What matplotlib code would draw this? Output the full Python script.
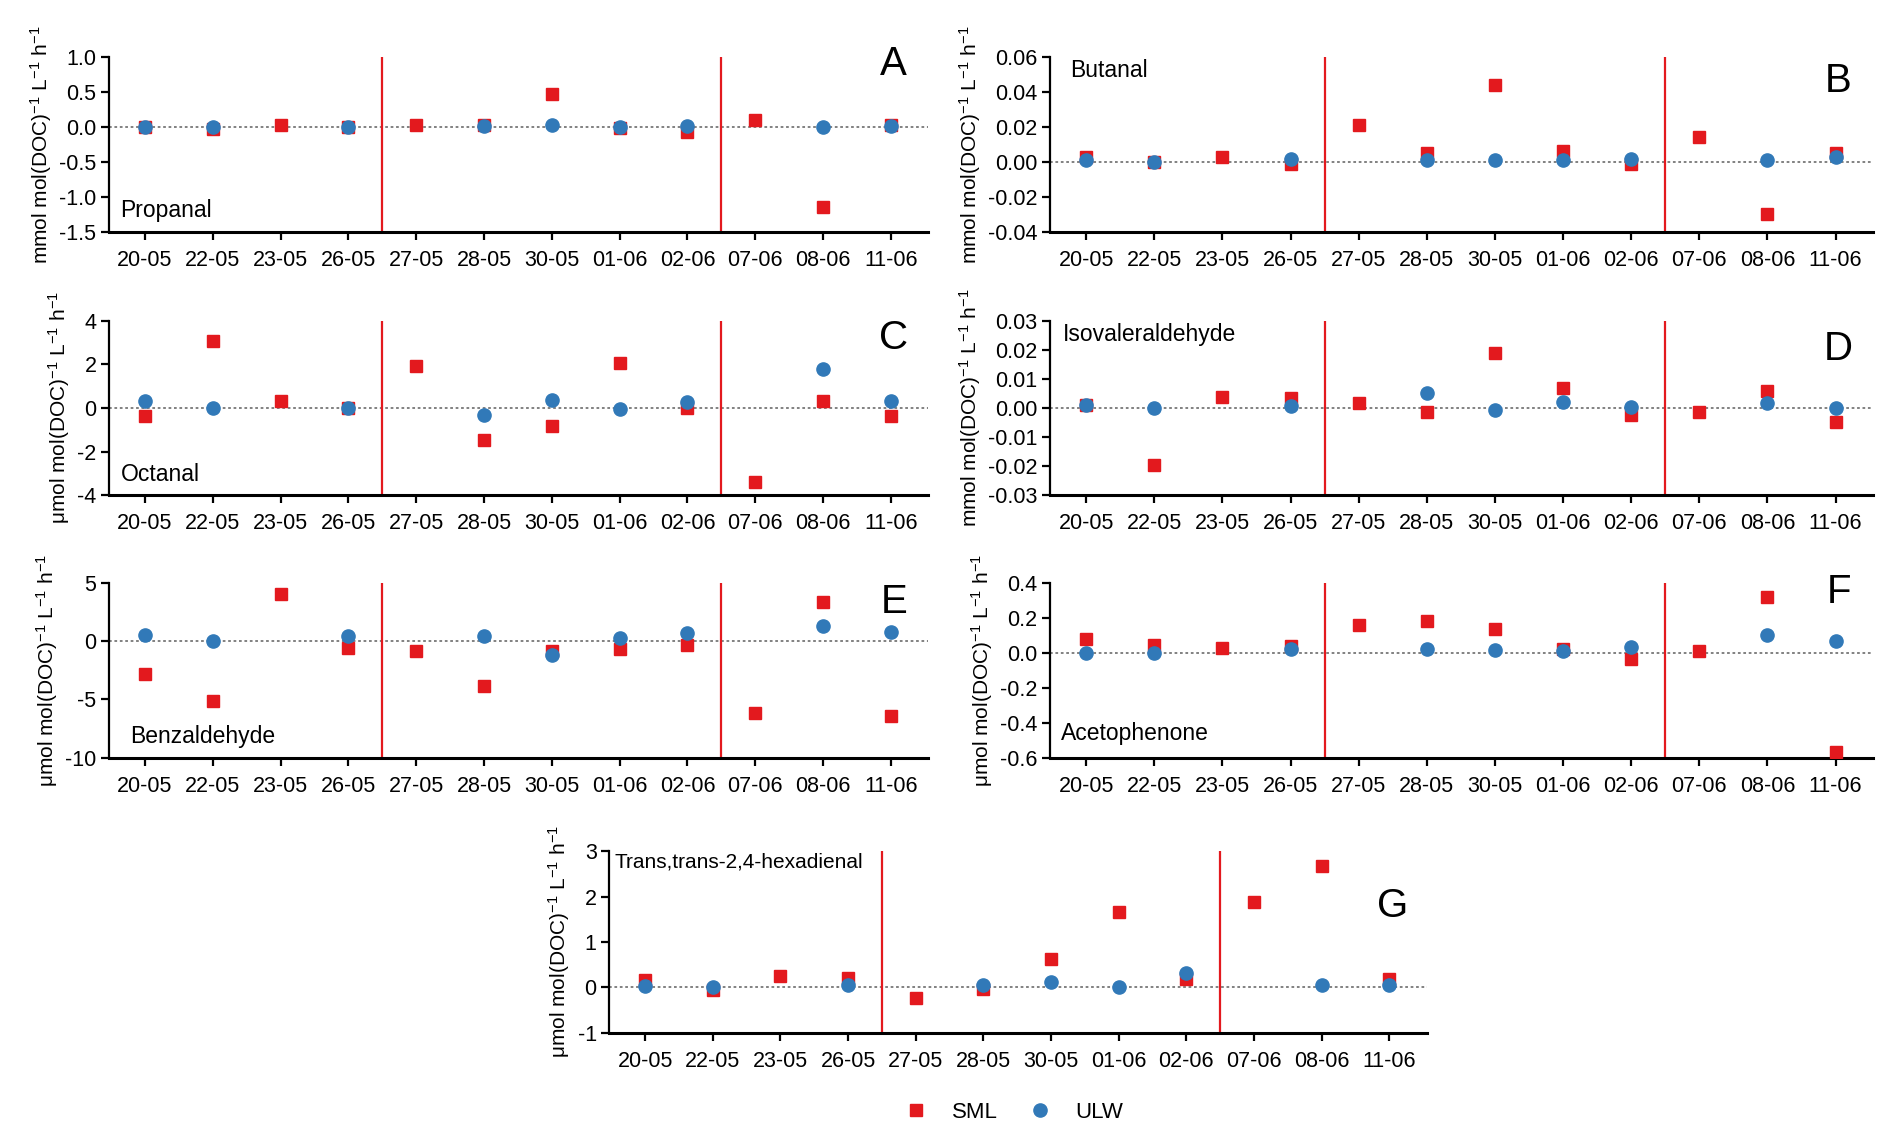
import numpy as np
import matplotlib
matplotlib.use("Agg")
from matplotlib import pyplot as plt
from matplotlib.lines import Line2D

plt.rcParams['font.family'] = ['Liberation Sans', 'DejaVu Sans']
plt.rcParams['mathtext.fontset'] = 'custom'
plt.rcParams['mathtext.rm'] = 'Liberation Sans'
plt.rcParams['mathtext.it'] = 'Liberation Sans:italic'
plt.rcParams['mathtext.bf'] = 'Liberation Sans:bold'

dates = ["20-05", "22-05", "23-05", "26-05", "27-05", "28-05",
         "30-05", "01-06", "02-06", "07-06", "08-06", "11-06"]
nan = np.nan

# SML / ULW values per compound
propanal_sml = [0.0, -0.03, 0.03, 0.0, 0.02, 0.02, 0.47, -0.02, -0.08, 0.10, -1.15, 0.02]
propanal_ulw = [0.0, 0.0, nan, 0.0, nan, 0.01, 0.03, 0.0, 0.01, nan, 0.0, 0.01]

butanal_sml = [0.003, 0.0, 0.003, -0.001, 0.021, 0.005, 0.044, 0.006, -0.001, 0.014, -0.030, 0.005]
butanal_ulw = [0.001, 0.0, nan, 0.0015, nan, 0.001, 0.001, 0.001, 0.0015, nan, 0.001, 0.003]

octanal_sml = [-0.35, 3.05, 0.3, 0.0, 1.92, -1.47, -0.82, 2.07, 0.0, -3.4, 0.3, -0.35]
octanal_ulw = [0.33, 0.0, nan, 0.0, nan, -0.32, 0.37, -0.05, 0.28, nan, 1.78, 0.33]

isoval_sml = [0.001, -0.0195, 0.0037, 0.0035, 0.0017, -0.0015, 0.019, 0.0068, -0.0025, -0.0015, 0.0057, -0.0048]
isoval_ulw = [0.001, 0.0, nan, 0.0005, nan, 0.0052, -0.0007, 0.002, 0.0002, nan, 0.0017, 0.0]

benz_sml = [-2.85, -5.1, 4.1, -0.55, -0.8, -3.85, -0.8, -0.7, -0.3, -6.15, 3.4, -6.45]
benz_ulw = [0.5, 0.0, nan, 0.45, nan, 0.45, -1.2, 0.25, 0.75, nan, 1.35, 0.8]

aceto_sml = [0.08, 0.045, 0.028, 0.04, 0.157, 0.185, 0.135, 0.02, -0.035, 0.01, 0.32, -0.565]
aceto_ulw = [0.0, 0.0, nan, 0.02, nan, 0.02, 0.015, 0.01, 0.035, nan, 0.1, 0.067]

hexa_sml = [0.15, -0.05, 0.25, 0.2, -0.23, -0.03, 0.62, 1.65, 0.18, 1.87, 2.68, 0.18]
hexa_ulw = [0.02, 0.0, nan, 0.04, nan, 0.05, 0.12, 0.01, 0.32, nan, 0.05, 0.04]

RED = '#e3191e'
BLUE = '#3179b8'

mmol = r'mmol mol(DOC)$^{-1}$ L$^{-1}$ h$^{-1}$'
umol = u'\u03bcmol mol(DOC)$^{-1}$ L$^{-1}$ h$^{-1}$'

panels = [
    # rect, sml, ulw, ylim, ticks, fmt, ylabel, letter, letter y, name, name x, name y, name size
    ([0.0576, 0.797, 0.433, 0.153], propanal_sml, propanal_ulw, (-1.5, 1.0),
     np.arange(-1.5, 1.01, 0.5), '%.1f', mmol, 'A', 0.96, 'Propanal', 0.013, 0.12, 16.5),
    ([0.555, 0.797, 0.435, 0.153], butanal_sml, butanal_ulw, (-0.04, 0.06),
     np.arange(-0.04, 0.061, 0.02), '%.2f', mmol, 'B', 0.86, 'Butanal', 0.024, 0.925, 16.5),
    ([0.0576, 0.566, 0.433, 0.153], octanal_sml, octanal_ulw, (-4, 4),
     np.arange(-4, 4.1, 2), '%d', umol, 'C', 0.90, 'Octanal', 0.015, 0.12, 16.5),
    ([0.555, 0.566, 0.435, 0.153], isoval_sml, isoval_ulw, (-0.03, 0.03),
     np.arange(-0.03, 0.031, 0.01), '%.2f', mmol, 'D', 0.84, 'Isovaleraldehyde', 0.015, 0.92, 16.5),
    ([0.0576, 0.336, 0.433, 0.153], benz_sml, benz_ulw, (-10, 5),
     np.arange(-10, 5.1, 5), '%d', umol, 'E', 0.89, 'Benzaldehyde', 0.026, 0.12, 16.5),
    ([0.555, 0.336, 0.435, 0.153], aceto_sml, aceto_ulw, (-0.6, 0.4),
     np.arange(-0.6, 0.41, 0.2), '%.1f', umol, 'F', 0.95, 'Acetophenone', 0.013, 0.137, 16.5),
    ([0.322, 0.095, 0.432, 0.159], hexa_sml, hexa_ulw, (-1, 3),
     np.arange(-1, 3.1, 1), '%d', umol, 'G', 0.70, 'Trans,trans-2,4-hexadienal', 0.007, 0.94, 15),
]

fig = plt.figure(figsize=(18.92, 11.41), dpi=100)
x = np.arange(len(dates))

for rect, sml, ulw, ylim, ticks, fmt, ylab, letter, ly, name, nx, ny, nsize in panels:
    ax = fig.add_axes(rect)
    ax.axhline(0, color='#777777', ls=(0, (1.5, 1.5)), lw=1.3, zorder=1)
    for xv in (3.5, 8.5):
        ax.axvline(xv, color=RED, lw=1.6, zorder=1)
    ax.plot(x, sml, 's', color=RED, ms=9, zorder=3)
    ax.plot(x, ulw, 'o', color=BLUE, ms=9.5, zorder=4)
    ax.set_xlim(-0.53, 11.55)
    ax.set_ylim(*ylim)
    ax.set_yticks(ticks)
    ax.set_yticklabels([fmt % t if abs(t) > 1e-9 else fmt % 0 for t in ticks])
    ax.set_xticks(x)
    ax.set_xticklabels(dates)
    for s in ('top', 'right'):
        ax.spines[s].set_visible(False)
    ax.spines['left'].set_linewidth(1.6)
    ax.spines['bottom'].set_linewidth(2.2)
    ax.tick_params(direction='out', length=6, width=1.6, labelsize=15.5, pad=7)
    ax.tick_params(axis='y', pad=3)
    ax.set_ylabel(ylab, fontsize=15, labelpad=4)
    ax.text(0.958, ly, letter, transform=ax.transAxes, fontsize=29,
            ha='center', va='center')
    ax.text(nx, ny, name, transform=ax.transAxes, fontsize=nsize,
            ha='left', va='center')

handles = [Line2D([], [], ls='none', marker='s', color=RED, ms=9, label='SML'),
           Line2D([], [], ls='none', marker='o', color=BLUE, ms=9.5, label='ULW')]
fig.legend(handles=handles, loc='center', bbox_to_anchor=(0.533, 0.025), ncol=2,
           frameon=False, fontsize=16, handletextpad=0.6, columnspacing=0.9)

fig.savefig('out.png', dpi=100)
